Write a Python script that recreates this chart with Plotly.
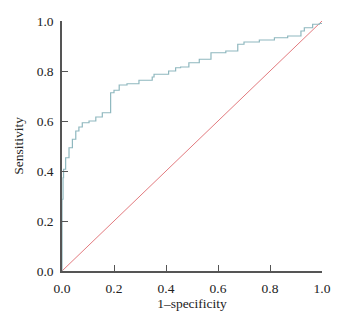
import plotly.graph_objects as go

# ROC curve points
fpr = [0.0, 0.0, 0.004, 0.006, 0.014, 0.027, 0.040, 0.053, 0.065, 0.078, 0.104,
       0.130, 0.155, 0.187, 0.187, 0.200, 0.220, 0.250, 0.296, 0.347, 0.354,
       0.410, 0.437, 0.456, 0.488, 0.528, 0.573, 0.630, 0.676, 0.700, 0.759,
       0.817, 0.868, 0.919, 0.932, 0.964, 0.990, 1.0]
tpr = [0.0, 0.280, 0.287, 0.373, 0.407, 0.453, 0.493, 0.527, 0.560, 0.576, 0.593,
       0.600, 0.616, 0.633, 0.647, 0.713, 0.723, 0.744, 0.749, 0.763, 0.776,
       0.787, 0.800, 0.813, 0.816, 0.833, 0.847, 0.873, 0.880, 0.907, 0.916,
       0.924, 0.933, 0.940, 0.960, 0.973, 0.987, 0.990]

ref_x = [0.0, 1.0]
ref_y = [0.0, 1.0]

tick_vals = [0.0, 0.2, 0.4, 0.6, 0.8, 1.0]
tick_text = ["0.0", "0.2", "0.4", "0.6", "0.8", "1.0"]

fig = go.Figure()
fig.add_trace(go.Scatter(x=ref_x, y=ref_y, mode="lines",
                         line=dict(color="#e27a7e", width=1), hoverinfo="skip"))
fig.add_trace(go.Scatter(x=fpr, y=tpr, mode="lines", line_shape="vh",
                         line=dict(color="#8fb8bf", width=1.2), hoverinfo="skip"))

font = dict(family="Liberation Serif, Times New Roman, serif", size=13.5, color="#222")
axis_common = dict(range=[0, 1], tickvals=tick_vals, ticktext=tick_text,
                   showline=True, linecolor="#555", linewidth=1.5,
                   ticks="inside", ticklen=6, tickcolor="#555", tickwidth=1.2,
                   showgrid=False, zeroline=False, tickfont=font, automargin=False)

fig.update_layout(
    width=346, height=315,
    margin=dict(l=54, r=32, t=13, b=52),
    paper_bgcolor="white", plot_bgcolor="white",
    showlegend=False,
    font=font,
    xaxis=dict(**axis_common, ticklabelstandoff=4,
               title=dict(text="1–specificity", font=font, standoff=3)),
    yaxis=dict(**axis_common, ticklabelstandoff=4,
               title=dict(text="Sensitivity", font=font, standoff=10)),
)

fig.write_html("out.html")
